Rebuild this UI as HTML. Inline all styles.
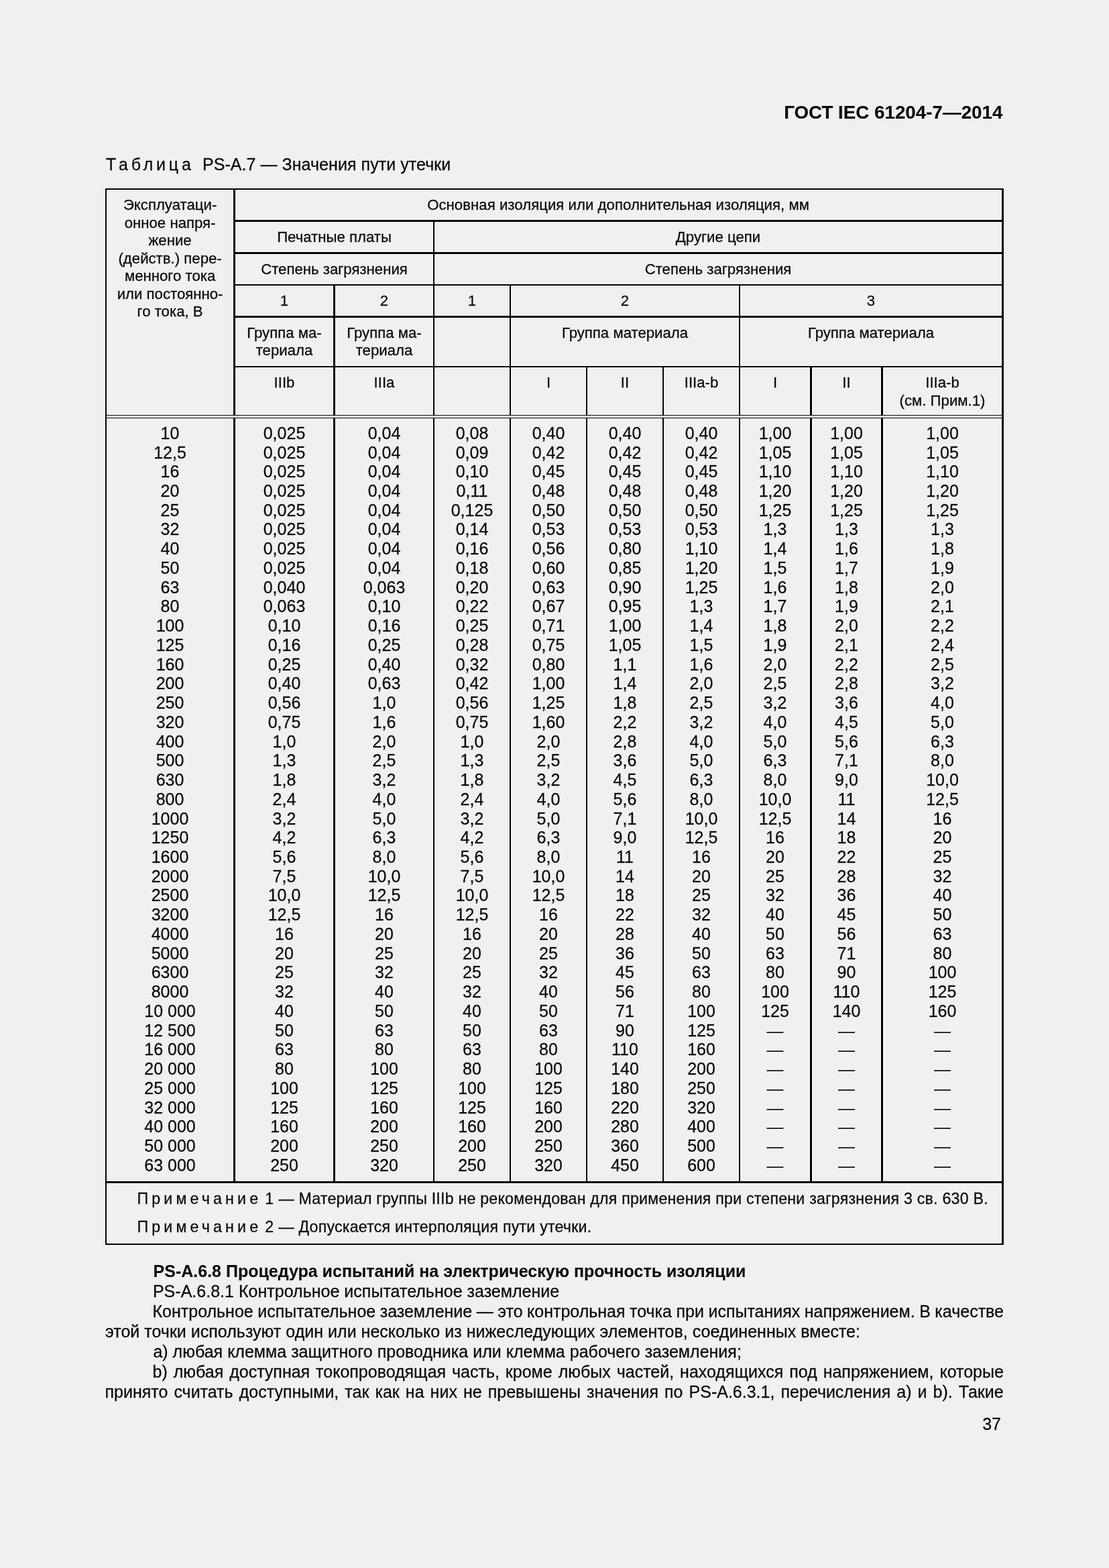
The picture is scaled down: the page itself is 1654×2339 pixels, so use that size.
<!DOCTYPE html>
<html lang="ru"><head><meta charset="utf-8"><title>ГОСТ IEC 61204-7—2014</title>
<style>
html,body{margin:0;padding:0}
body{width:1654px;height:2339px;background:#f0f0f0;position:relative;overflow:hidden;font-family:"Liberation Sans",sans-serif;color:#0a0a0a;-webkit-text-stroke:0.3px #0a0a0a;text-shadow:0 0 1px #fff,0 0 1.5px #fff}
i{position:absolute;display:block}
.h i{background:#f9f9f9}
.t{position:absolute;white-space:nowrap;margin:0;padding:0}
.b{font-weight:bold;-webkit-text-stroke:0.15px #0a0a0a}
.n span{position:absolute;top:0;white-space:nowrap}
.d{position:absolute;top:600px;width:120px;height:1160px;font-size:25px;line-height:28px;text-align:center;white-space:nowrap}
.d p{position:absolute;left:0;width:120px;margin:0}
.d p.m{-webkit-text-stroke:0;margin-top:1px}
</style></head><body>
<div class="h">
<i style="left:156px;top:280px;width:1342px;height:4px"></i>
<i style="left:347px;top:327px;width:1148px;height:5px"></i>
<i style="left:347px;top:375px;width:1148px;height:5px"></i>
<i style="left:347px;top:423px;width:1148px;height:4px"></i>
<i style="left:347px;top:470px;width:1148px;height:5px"></i>
<i style="left:347px;top:545px;width:1148px;height:4px"></i>
<i style="left:156px;top:1761px;width:1339px;height:5px"></i>
<i style="left:156px;top:1854px;width:1342px;height:4px"></i>
<i style="left:156px;top:280px;width:4px;height:1576px"></i>
<i style="left:1493px;top:280px;width:5px;height:1576px"></i>
<i style="left:347px;top:280px;width:5px;height:340px"></i>
<i style="left:347px;top:623px;width:5px;height:1140px"></i>
<i style="left:645px;top:328px;width:4px;height:292px"></i>
<i style="left:645px;top:623px;width:4px;height:1140px"></i>
<i style="left:496px;top:424px;width:5px;height:196px"></i>
<i style="left:496px;top:623px;width:5px;height:1140px"></i>
<i style="left:759px;top:424px;width:4px;height:196px"></i>
<i style="left:759px;top:623px;width:4px;height:1140px"></i>
<i style="left:1101px;top:424px;width:4px;height:196px"></i>
<i style="left:1101px;top:623px;width:4px;height:1140px"></i>
<i style="left:873px;top:546px;width:4px;height:74px"></i>
<i style="left:873px;top:623px;width:4px;height:1140px"></i>
<i style="left:987px;top:546px;width:4px;height:74px"></i>
<i style="left:987px;top:623px;width:4px;height:1140px"></i>
<i style="left:1207px;top:546px;width:5px;height:74px"></i>
<i style="left:1207px;top:623px;width:5px;height:1140px"></i>
<i style="left:1313px;top:546px;width:5px;height:74px"></i>
<i style="left:1313px;top:623px;width:5px;height:1140px"></i>
<i style="left:156px;top:618px;width:1339px;height:3px"></i>
<i style="left:156px;top:622px;width:1339px;height:3px"></i>
</div>
<div class="g">
<i style="left:157px;top:281px;width:1340px;height:2px;background:#000"></i>
<i style="left:348px;top:328px;width:1146px;height:3px;background:#000"></i>
<i style="left:348px;top:376px;width:1146px;height:3px;background:#000"></i>
<i style="left:348px;top:424px;width:1146px;height:2px;background:#000"></i>
<i style="left:348px;top:471px;width:1146px;height:3px;background:#000"></i>
<i style="left:348px;top:546px;width:1146px;height:2px;background:#000"></i>
<i style="left:157px;top:1762px;width:1337px;height:3px;background:#000"></i>
<i style="left:157px;top:1855px;width:1340px;height:2px;background:#000"></i>
<i style="left:157px;top:281px;width:2px;height:1574px;background:#000"></i>
<i style="left:1494px;top:281px;width:3px;height:1574px;background:#000"></i>
<i style="left:348px;top:281px;width:3px;height:338px;background:#000"></i>
<i style="left:348px;top:624px;width:3px;height:1138px;background:#000"></i>
<i style="left:646px;top:329px;width:2px;height:290px;background:#000"></i>
<i style="left:646px;top:624px;width:2px;height:1138px;background:#000"></i>
<i style="left:497px;top:425px;width:3px;height:194px;background:#000"></i>
<i style="left:497px;top:624px;width:3px;height:1138px;background:#000"></i>
<i style="left:760px;top:425px;width:2px;height:194px;background:#000"></i>
<i style="left:760px;top:624px;width:2px;height:1138px;background:#000"></i>
<i style="left:1102px;top:425px;width:2px;height:194px;background:#000"></i>
<i style="left:1102px;top:624px;width:2px;height:1138px;background:#000"></i>
<i style="left:874px;top:547px;width:2px;height:72px;background:#000"></i>
<i style="left:874px;top:624px;width:2px;height:1138px;background:#000"></i>
<i style="left:988px;top:547px;width:2px;height:72px;background:#000"></i>
<i style="left:988px;top:624px;width:2px;height:1138px;background:#000"></i>
<i style="left:1208px;top:547px;width:3px;height:72px;background:#000"></i>
<i style="left:1208px;top:624px;width:3px;height:1138px;background:#000"></i>
<i style="left:1314px;top:547px;width:3px;height:72px;background:#000"></i>
<i style="left:1314px;top:624px;width:3px;height:1138px;background:#000"></i>
<i style="left:159px;top:620px;width:1335px;height:3px;background:#fcfcfc"></i>
<i style="left:157px;top:619px;width:1337px;height:1px;background:#000"></i>
<i style="left:157px;top:623px;width:1337px;height:1px;background:#000"></i>
</div>
<div class="t b" style="left:595.40px;width:900px;text-align:right;top:152px;font-size:27.75px;line-height:31px;">ГОСТ IEC 61204-7—2014</div>
<div class="t" style="left:158.00px;top:231px;font-size:25px;line-height:28px;"><span style="letter-spacing:4.8px">Таблица</span><span style="margin-left:12.3px;letter-spacing:0.06px">PS-A.7 — Значения пути утечки</span></div>
<div class="t" style="left:53.60px;width:400px;text-align:center;top:293px;font-size:22.2px;line-height:25px;">Эксплуатаци-</div>
<div class="t" style="left:53.60px;width:400px;text-align:center;top:320px;font-size:22.2px;line-height:25px;">онное напря-</div>
<div class="t" style="left:53.60px;width:400px;text-align:center;top:346px;font-size:22.2px;line-height:25px;">жение</div>
<div class="t" style="left:53.60px;width:400px;text-align:center;top:373px;font-size:22.2px;line-height:25px;">(действ.) пере-</div>
<div class="t" style="left:53.60px;width:400px;text-align:center;top:399px;font-size:22.2px;line-height:25px;">менного тока</div>
<div class="t" style="left:53.60px;width:400px;text-align:center;top:426px;font-size:22.2px;line-height:25px;">или постоянно-</div>
<div class="t" style="left:53.60px;width:400px;text-align:center;top:452px;font-size:22.2px;line-height:25px;">го тока, В</div>
<div class="t" style="left:472.10px;width:900px;text-align:center;top:293px;font-size:22.2px;line-height:25px;letter-spacing:0.03px">Основная изоляция или дополнительная изоляция, мм</div>
<div class="t" style="left:298.50px;width:400px;text-align:center;top:341px;font-size:22.2px;line-height:25px;">Печатные платы</div>
<div class="t" style="left:871.00px;width:400px;text-align:center;top:341px;font-size:22.2px;line-height:25px;">Другие цепи</div>
<div class="t" style="left:298.50px;width:400px;text-align:center;top:389px;font-size:22.2px;line-height:25px;">Степень загрязнения</div>
<div class="t" style="left:871.00px;width:400px;text-align:center;top:389px;font-size:22.2px;line-height:25px;">Степень загрязнения</div>
<div class="t" style="left:224.00px;width:400px;text-align:center;top:436px;font-size:22.2px;line-height:25px;">1</div>
<div class="t" style="left:373.00px;width:400px;text-align:center;top:436px;font-size:22.2px;line-height:25px;">2</div>
<div class="t" style="left:504.00px;width:400px;text-align:center;top:436px;font-size:22.2px;line-height:25px;">1</div>
<div class="t" style="left:732.00px;width:400px;text-align:center;top:436px;font-size:22.2px;line-height:25px;">2</div>
<div class="t" style="left:1099.00px;width:400px;text-align:center;top:436px;font-size:22.2px;line-height:25px;">3</div>
<div class="t" style="left:224.00px;width:400px;text-align:center;top:484px;font-size:22.2px;line-height:25px;">Группа ма-</div>
<div class="t" style="left:224.00px;width:400px;text-align:center;top:510px;font-size:22.2px;line-height:25px;">териала</div>
<div class="t" style="left:373.00px;width:400px;text-align:center;top:484px;font-size:22.2px;line-height:25px;">Группа ма-</div>
<div class="t" style="left:373.00px;width:400px;text-align:center;top:510px;font-size:22.2px;line-height:25px;">териала</div>
<div class="t" style="left:732.00px;width:400px;text-align:center;top:484px;font-size:22.2px;line-height:25px;">Группа материала</div>
<div class="t" style="left:1099.00px;width:400px;text-align:center;top:484px;font-size:22.2px;line-height:25px;">Группа материала</div>
<div class="t" style="left:224.00px;width:400px;text-align:center;top:558px;font-size:22.2px;line-height:25px;">IIIb</div>
<div class="t" style="left:373.00px;width:400px;text-align:center;top:558px;font-size:22.2px;line-height:25px;">IIIa</div>
<div class="t" style="left:618.00px;width:400px;text-align:center;top:558px;font-size:22.2px;line-height:25px;">I</div>
<div class="t" style="left:732.00px;width:400px;text-align:center;top:558px;font-size:22.2px;line-height:25px;">II</div>
<div class="t" style="left:846.00px;width:400px;text-align:center;top:558px;font-size:22.2px;line-height:25px;">IIIa-b</div>
<div class="t" style="left:956.00px;width:400px;text-align:center;top:558px;font-size:22.2px;line-height:25px;">I</div>
<div class="t" style="left:1062.50px;width:400px;text-align:center;top:558px;font-size:22.2px;line-height:25px;">II</div>
<div class="t" style="left:1205.50px;width:400px;text-align:center;top:558px;font-size:22.2px;line-height:25px;">IIIa-b</div>
<div class="t" style="left:1205.50px;width:400px;text-align:center;top:585px;font-size:22.2px;line-height:25px;">(см. Прим.1)</div>
<div class="d" style="left:193.50px"><p style="top:32px">10</p><p style="top:61px">12,5</p><p style="top:89px">16</p><p style="top:118px">20</p><p style="top:147px">25</p><p style="top:175px">32</p><p style="top:204px">40</p><p style="top:233px">50</p><p style="top:262px">63</p><p style="top:290px">80</p><p style="top:319px">100</p><p style="top:348px">125</p><p style="top:377px">160</p><p style="top:405px">200</p><p style="top:434px">250</p><p style="top:463px">320</p><p style="top:492px">400</p><p style="top:520px">500</p><p style="top:549px">630</p><p style="top:578px">800</p><p style="top:607px">1000</p><p style="top:635px">1250</p><p style="top:664px">1600</p><p style="top:693px">2000</p><p style="top:721px">2500</p><p style="top:750px">3200</p><p style="top:779px">4000</p><p style="top:808px">5000</p><p style="top:836px">6300</p><p style="top:865px">8000</p><p style="top:894px">10 000</p><p style="top:923px">12 500</p><p style="top:951px">16 000</p><p style="top:980px">20 000</p><p style="top:1009px">25 000</p><p style="top:1038px">32 000</p><p style="top:1066px">40 000</p><p style="top:1095px">50 000</p><p style="top:1124px">63 000</p></div>
<div class="d" style="left:364.00px"><p style="top:32px">0,025</p><p style="top:61px">0,025</p><p style="top:89px">0,025</p><p style="top:118px">0,025</p><p style="top:147px">0,025</p><p style="top:175px">0,025</p><p style="top:204px">0,025</p><p style="top:233px">0,025</p><p style="top:262px">0,040</p><p style="top:290px">0,063</p><p style="top:319px">0,10</p><p style="top:348px">0,16</p><p style="top:377px">0,25</p><p style="top:405px">0,40</p><p style="top:434px">0,56</p><p style="top:463px">0,75</p><p style="top:492px">1,0</p><p style="top:520px">1,3</p><p style="top:549px">1,8</p><p style="top:578px">2,4</p><p style="top:607px">3,2</p><p style="top:635px">4,2</p><p style="top:664px">5,6</p><p style="top:693px">7,5</p><p style="top:721px">10,0</p><p style="top:750px">12,5</p><p style="top:779px">16</p><p style="top:808px">20</p><p style="top:836px">25</p><p style="top:865px">32</p><p style="top:894px">40</p><p style="top:923px">50</p><p style="top:951px">63</p><p style="top:980px">80</p><p style="top:1009px">100</p><p style="top:1038px">125</p><p style="top:1066px">160</p><p style="top:1095px">200</p><p style="top:1124px">250</p></div>
<div class="d" style="left:513.00px"><p style="top:32px">0,04</p><p style="top:61px">0,04</p><p style="top:89px">0,04</p><p style="top:118px">0,04</p><p style="top:147px">0,04</p><p style="top:175px">0,04</p><p style="top:204px">0,04</p><p style="top:233px">0,04</p><p style="top:262px">0,063</p><p style="top:290px">0,10</p><p style="top:319px">0,16</p><p style="top:348px">0,25</p><p style="top:377px">0,40</p><p style="top:405px">0,63</p><p style="top:434px">1,0</p><p style="top:463px">1,6</p><p style="top:492px">2,0</p><p style="top:520px">2,5</p><p style="top:549px">3,2</p><p style="top:578px">4,0</p><p style="top:607px">5,0</p><p style="top:635px">6,3</p><p style="top:664px">8,0</p><p style="top:693px">10,0</p><p style="top:721px">12,5</p><p style="top:750px">16</p><p style="top:779px">20</p><p style="top:808px">25</p><p style="top:836px">32</p><p style="top:865px">40</p><p style="top:894px">50</p><p style="top:923px">63</p><p style="top:951px">80</p><p style="top:980px">100</p><p style="top:1009px">125</p><p style="top:1038px">160</p><p style="top:1066px">200</p><p style="top:1095px">250</p><p style="top:1124px">320</p></div>
<div class="d" style="left:644.00px"><p style="top:32px">0,08</p><p style="top:61px">0,09</p><p style="top:89px">0,10</p><p style="top:118px">0,11</p><p style="top:147px">0,125</p><p style="top:175px">0,14</p><p style="top:204px">0,16</p><p style="top:233px">0,18</p><p style="top:262px">0,20</p><p style="top:290px">0,22</p><p style="top:319px">0,25</p><p style="top:348px">0,28</p><p style="top:377px">0,32</p><p style="top:405px">0,42</p><p style="top:434px">0,56</p><p style="top:463px">0,75</p><p style="top:492px">1,0</p><p style="top:520px">1,3</p><p style="top:549px">1,8</p><p style="top:578px">2,4</p><p style="top:607px">3,2</p><p style="top:635px">4,2</p><p style="top:664px">5,6</p><p style="top:693px">7,5</p><p style="top:721px">10,0</p><p style="top:750px">12,5</p><p style="top:779px">16</p><p style="top:808px">20</p><p style="top:836px">25</p><p style="top:865px">32</p><p style="top:894px">40</p><p style="top:923px">50</p><p style="top:951px">63</p><p style="top:980px">80</p><p style="top:1009px">100</p><p style="top:1038px">125</p><p style="top:1066px">160</p><p style="top:1095px">200</p><p style="top:1124px">250</p></div>
<div class="d" style="left:758.00px"><p style="top:32px">0,40</p><p style="top:61px">0,42</p><p style="top:89px">0,45</p><p style="top:118px">0,48</p><p style="top:147px">0,50</p><p style="top:175px">0,53</p><p style="top:204px">0,56</p><p style="top:233px">0,60</p><p style="top:262px">0,63</p><p style="top:290px">0,67</p><p style="top:319px">0,71</p><p style="top:348px">0,75</p><p style="top:377px">0,80</p><p style="top:405px">1,00</p><p style="top:434px">1,25</p><p style="top:463px">1,60</p><p style="top:492px">2,0</p><p style="top:520px">2,5</p><p style="top:549px">3,2</p><p style="top:578px">4,0</p><p style="top:607px">5,0</p><p style="top:635px">6,3</p><p style="top:664px">8,0</p><p style="top:693px">10,0</p><p style="top:721px">12,5</p><p style="top:750px">16</p><p style="top:779px">20</p><p style="top:808px">25</p><p style="top:836px">32</p><p style="top:865px">40</p><p style="top:894px">50</p><p style="top:923px">63</p><p style="top:951px">80</p><p style="top:980px">100</p><p style="top:1009px">125</p><p style="top:1038px">160</p><p style="top:1066px">200</p><p style="top:1095px">250</p><p style="top:1124px">320</p></div>
<div class="d" style="left:872.00px"><p style="top:32px">0,40</p><p style="top:61px">0,42</p><p style="top:89px">0,45</p><p style="top:118px">0,48</p><p style="top:147px">0,50</p><p style="top:175px">0,53</p><p style="top:204px">0,80</p><p style="top:233px">0,85</p><p style="top:262px">0,90</p><p style="top:290px">0,95</p><p style="top:319px">1,00</p><p style="top:348px">1,05</p><p style="top:377px">1,1</p><p style="top:405px">1,4</p><p style="top:434px">1,8</p><p style="top:463px">2,2</p><p style="top:492px">2,8</p><p style="top:520px">3,6</p><p style="top:549px">4,5</p><p style="top:578px">5,6</p><p style="top:607px">7,1</p><p style="top:635px">9,0</p><p style="top:664px">11</p><p style="top:693px">14</p><p style="top:721px">18</p><p style="top:750px">22</p><p style="top:779px">28</p><p style="top:808px">36</p><p style="top:836px">45</p><p style="top:865px">56</p><p style="top:894px">71</p><p style="top:923px">90</p><p style="top:951px">110</p><p style="top:980px">140</p><p style="top:1009px">180</p><p style="top:1038px">220</p><p style="top:1066px">280</p><p style="top:1095px">360</p><p style="top:1124px">450</p></div>
<div class="d" style="left:986.00px"><p style="top:32px">0,40</p><p style="top:61px">0,42</p><p style="top:89px">0,45</p><p style="top:118px">0,48</p><p style="top:147px">0,50</p><p style="top:175px">0,53</p><p style="top:204px">1,10</p><p style="top:233px">1,20</p><p style="top:262px">1,25</p><p style="top:290px">1,3</p><p style="top:319px">1,4</p><p style="top:348px">1,5</p><p style="top:377px">1,6</p><p style="top:405px">2,0</p><p style="top:434px">2,5</p><p style="top:463px">3,2</p><p style="top:492px">4,0</p><p style="top:520px">5,0</p><p style="top:549px">6,3</p><p style="top:578px">8,0</p><p style="top:607px">10,0</p><p style="top:635px">12,5</p><p style="top:664px">16</p><p style="top:693px">20</p><p style="top:721px">25</p><p style="top:750px">32</p><p style="top:779px">40</p><p style="top:808px">50</p><p style="top:836px">63</p><p style="top:865px">80</p><p style="top:894px">100</p><p style="top:923px">125</p><p style="top:951px">160</p><p style="top:980px">200</p><p style="top:1009px">250</p><p style="top:1038px">320</p><p style="top:1066px">400</p><p style="top:1095px">500</p><p style="top:1124px">600</p></div>
<div class="d" style="left:1096.00px"><p style="top:32px">1,00</p><p style="top:61px">1,05</p><p style="top:89px">1,10</p><p style="top:118px">1,20</p><p style="top:147px">1,25</p><p style="top:175px">1,3</p><p style="top:204px">1,4</p><p style="top:233px">1,5</p><p style="top:262px">1,6</p><p style="top:290px">1,7</p><p style="top:319px">1,8</p><p style="top:348px">1,9</p><p style="top:377px">2,0</p><p style="top:405px">2,5</p><p style="top:434px">3,2</p><p style="top:463px">4,0</p><p style="top:492px">5,0</p><p style="top:520px">6,3</p><p style="top:549px">8,0</p><p style="top:578px">10,0</p><p style="top:607px">12,5</p><p style="top:635px">16</p><p style="top:664px">20</p><p style="top:693px">25</p><p style="top:721px">32</p><p style="top:750px">40</p><p style="top:779px">50</p><p style="top:808px">63</p><p style="top:836px">80</p><p style="top:865px">100</p><p style="top:894px">125</p><p class="m" style="top:923px">—</p><p class="m" style="top:951px">—</p><p class="m" style="top:980px">—</p><p class="m" style="top:1009px">—</p><p class="m" style="top:1038px">—</p><p class="m" style="top:1066px">—</p><p class="m" style="top:1095px">—</p><p class="m" style="top:1124px">—</p></div>
<div class="d" style="left:1202.50px"><p style="top:32px">1,00</p><p style="top:61px">1,05</p><p style="top:89px">1,10</p><p style="top:118px">1,20</p><p style="top:147px">1,25</p><p style="top:175px">1,3</p><p style="top:204px">1,6</p><p style="top:233px">1,7</p><p style="top:262px">1,8</p><p style="top:290px">1,9</p><p style="top:319px">2,0</p><p style="top:348px">2,1</p><p style="top:377px">2,2</p><p style="top:405px">2,8</p><p style="top:434px">3,6</p><p style="top:463px">4,5</p><p style="top:492px">5,6</p><p style="top:520px">7,1</p><p style="top:549px">9,0</p><p style="top:578px">11</p><p style="top:607px">14</p><p style="top:635px">18</p><p style="top:664px">22</p><p style="top:693px">28</p><p style="top:721px">36</p><p style="top:750px">45</p><p style="top:779px">56</p><p style="top:808px">71</p><p style="top:836px">90</p><p style="top:865px">110</p><p style="top:894px">140</p><p class="m" style="top:923px">—</p><p class="m" style="top:951px">—</p><p class="m" style="top:980px">—</p><p class="m" style="top:1009px">—</p><p class="m" style="top:1038px">—</p><p class="m" style="top:1066px">—</p><p class="m" style="top:1095px">—</p><p class="m" style="top:1124px">—</p></div>
<div class="d" style="left:1345.50px"><p style="top:32px">1,00</p><p style="top:61px">1,05</p><p style="top:89px">1,10</p><p style="top:118px">1,20</p><p style="top:147px">1,25</p><p style="top:175px">1,3</p><p style="top:204px">1,8</p><p style="top:233px">1,9</p><p style="top:262px">2,0</p><p style="top:290px">2,1</p><p style="top:319px">2,2</p><p style="top:348px">2,4</p><p style="top:377px">2,5</p><p style="top:405px">3,2</p><p style="top:434px">4,0</p><p style="top:463px">5,0</p><p style="top:492px">6,3</p><p style="top:520px">8,0</p><p style="top:549px">10,0</p><p style="top:578px">12,5</p><p style="top:607px">16</p><p style="top:635px">20</p><p style="top:664px">25</p><p style="top:693px">32</p><p style="top:721px">40</p><p style="top:750px">50</p><p style="top:779px">63</p><p style="top:808px">80</p><p style="top:836px">100</p><p style="top:865px">125</p><p style="top:894px">160</p><p class="m" style="top:923px">—</p><p class="m" style="top:951px">—</p><p class="m" style="top:980px">—</p><p class="m" style="top:1009px">—</p><p class="m" style="top:1038px">—</p><p class="m" style="top:1066px">—</p><p class="m" style="top:1095px">—</p><p class="m" style="top:1124px">—</p></div>
<div class="t n" style="left:204.4px;top:1775px;font-size:23.2px;line-height:26px;"><span style="left:0;letter-spacing:5.16px">Примечание</span><span style="left:190.8px">1</span><span style="left:211px;letter-spacing:0.213px">— Материал группы IIIb не рекомендован для применения при степени загрязнения 3 св. 630 В.</span></div>
<div class="t n" style="left:204.4px;top:1817px;font-size:23.2px;line-height:26px;"><span style="left:0;letter-spacing:5.16px">Примечание</span><span style="left:190.8px">2</span><span style="left:211px;letter-spacing:0.213px">— Допускается интерполяция пути утечки.</span></div>
<div class="t b" style="left:228.60px;top:1882px;font-size:25px;line-height:28px;">PS-A.6.8 Процедура испытаний на электрическую прочность изоляции</div>
<div class="t" style="left:227.90px;top:1912px;font-size:25px;line-height:28px;letter-spacing:0.02px">PS-A.6.8.1 Контрольное испытательное заземление</div>
<div class="t" style="left:227.50px;top:1942px;font-size:25px;line-height:28px;word-spacing:-0.43px">Контрольное испытательное заземление — это контрольная точка при испытаниях напряжением. В качестве</div>
<div class="t" style="left:157.00px;top:1972px;font-size:25px;line-height:28px;letter-spacing:0.02px">этой точки используют один или несколько из нижеследующих элементов, соединенных вместе:</div>
<div class="t" style="left:228.40px;top:2002px;font-size:25px;line-height:28px;letter-spacing:0.01px">a) любая клемма защитного проводника или клемма рабочего заземления;</div>
<div class="t" style="left:227.50px;top:2032px;font-size:25px;line-height:28px;word-spacing:2px">b) любая доступная токопроводящая часть, кроме любых частей, находящихся под напряжением, которые</div>
<div class="t" style="left:156.50px;top:2062px;font-size:25px;line-height:28px;word-spacing:2.12px">принято считать доступными, так как на них не превышены значения по PS-A.6.3.1, перечисления a) и b). Такие</div>
<div class="t" style="left:593.00px;width:900px;text-align:right;top:2110px;font-size:25px;line-height:28px;">37</div>
</body></html>
